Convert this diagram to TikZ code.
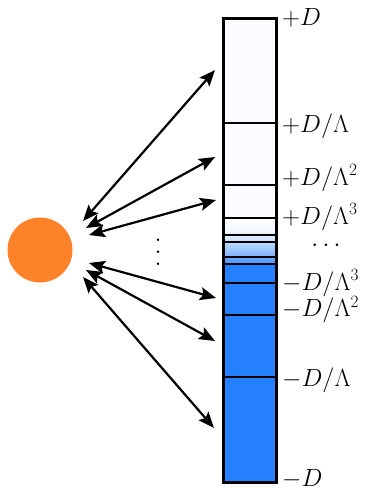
\documentclass[tikz,border=0pt]{standalone}
\usetikzlibrary{arrows.meta}
\definecolor{fullblue}{RGB}{36,128,255}
\definecolor{sunorange}{RGB}{253,130,42}
\definecolor{tintA}{RGB}{251,252,255}
\definecolor{tintB}{RGB}{236,243,255}
\definecolor{tintC}{RGB}{222,234,255}
\definecolor{tintD}{RGB}{205,224,255}
\definecolor{tintE}{RGB}{192,217,255}
\definecolor{tintF}{RGB}{124,176,255}
\definecolor{tintG}{RGB}{106,166,255}
\definecolor{tintH}{RGB}{80,150,255}
\tikzset{
  barline/.style={line width=2.2pt},
  baroutline/.style={line width=3pt},
  link/.style={line width=2.2pt,{Stealth[length=16pt,width=13pt,inset=3pt]}-{Stealth[length=16pt,width=13pt,inset=3pt]}},
  lbl/.style={anchor=base west,inner sep=0pt,font=\fontsize{27}{31}\selectfont},
}
\begin{document}
\begin{tikzpicture}[x=1pt,y=-1pt]
\useasboundingbox (0,0) rectangle (378,490);
% sections of the bar
\fill[tintA] (223.5,18) rectangle (276,218);
\shade[top color=white,bottom color=tintB] (223.5,218) rectangle (276,235);
\shade[top color=tintC,bottom color=tintD] (223.5,235) rectangle (276,242);
\shade[top color=tintE,bottom color=tintF] (223.5,242) rectangle (276,257);
\shade[top color=tintG,bottom color=tintH] (223.5,257) rectangle (276,264);
\fill[fullblue] (223.5,264) rectangle (276,482);
% level lines
\foreach \yy in {123,185,218,235,242,257,264,283,315,377}
  \draw[barline] (223.5,\yy) -- (276,\yy);
\draw[baroutline] (223.5,18) rectangle (276,482);
% impurity
\node[circle,fill=sunorange,minimum size=65pt,inner sep=0pt] (imp) at (40,250) {};
% end points of links
\coordinate (l1) at (83,221);  \coordinate (r1) at (215,70);
\coordinate (l2) at (86,228);  \coordinate (r2) at (215,157);
\coordinate (l3) at (89,235);  \coordinate (r3) at (216,200);
\coordinate (l4) at (89,263);  \coordinate (r4) at (216,298);
\coordinate (l5) at (86,270);  \coordinate (r5) at (215,341);
\coordinate (l6) at (83,277);  \coordinate (r6) at (214,428);
\foreach \i in {1,...,6} \draw[link] (l\i) -- (r\i);
\node[align=center,inner sep=0pt,font=\fontsize{30}{12}\selectfont] (vd) at (158,252) {.\\.\\.};
% labels
\node[lbl] (t0) at (282,25) {$+D$};
\node[lbl] (t1) at (282,132.5) {$+D/\Lambda$};
\node[lbl] (t2) at (282,185) {$+D/\Lambda^2$};
\node[lbl] (t3) at (282,224) {$+D/\Lambda^3$};
\node[anchor=center,inner sep=0pt,font=\fontsize{27}{31}\selectfont] (tc) at (326,246) {$\cdots$};
\node[lbl] (b3) at (282,290) {$-D/\Lambda^3$};
\node[lbl] (b2) at (282,316.5) {$-D/\Lambda^2$};
\node[lbl] (b1) at (282,386.5) {$-D/\Lambda$};
\node[lbl] (b0) at (282,486) {$-D$};
\end{tikzpicture}
\end{document}
